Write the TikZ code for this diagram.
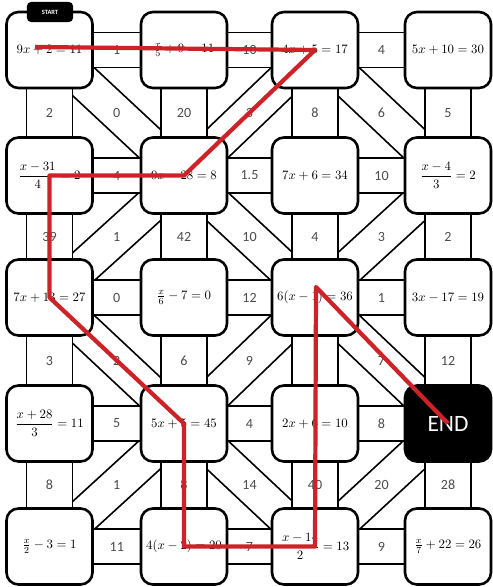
\documentclass[tikz,border=0pt]{standalone}
\usepackage{amsmath}
\usepackage{fontspec}
\newfontfamily\numfont{Carlito} % 通道数字与 END 用无衬线字体
\usetikzlibrary{
  backgrounds, % 通道画在背景层，方框盖在上面
  positioning  % 节点相对定位
}
\definecolor{pathred}{RGB}{205,35,40} % 答案路线的红色

\tikzset{
  eqbox/.style={draw, line width=2.2pt, fill=white, rounded corners=0.36cm,
    minimum width=2.58cm, minimum height=2.28cm, inner sep=0pt,
    font=\fontsize{11}{13}\selectfont}, % 方程方框
  endbox/.style={eqbox, fill=black, text=white,
    font=\numfont\fontsize{20}{24}\selectfont}, % 终点黑框
  starttab/.style={fill=black, rounded corners=0.12cm, minimum width=1.38cm,
    minimum height=0.6cm, inner sep=0pt, text=white,
    font=\numfont\bfseries\fontsize{5.5}{6}\selectfont}, % 起点小标签
  hpass/.style={draw=black, line width=1.5pt, double=white, double distance=28.4pt}, % 横向通道
  vpass/.style={hpass, double distance=37.8pt}, % 纵向通道，稍宽
  dpass/.style={hpass}, % 斜向通道
  num/.style={text=black!70, font=\numfont\fontsize{12}{14}\selectfont, inner sep=1pt}, % 通道上的答案数字
  redpath/.style={draw=pathred, line width=3.6pt, line join=round} % 红色答案路线
}

\begin{document}
\begin{tikzpicture}[x=0.03cm, y=-0.03cm] % 以像素为单位：1 像素 = 0.03cm，y 向下

  \useasboundingbox (0,0) rectangle (492,587); % 固定画布大小与原图一致

  % ======= 方框 (4 列 x 5 行) =======
  \node[eqbox] (b11) at (49.5,50) {$9x+2=11$}; % 第 1 行
  \node[eqbox] (b12) at (184,50) {$\frac{x}{5}+9=11$};
  \node[eqbox] (b13) at (315,50) {$4x+5=17$};
  \node[eqbox] (b14) at (448,50) {$5x+10=30$};

  \node[eqbox] (b21) at (49.5,175.5) {$\dfrac{x-31}{4}=2$}; % 第 2 行
  \node[eqbox] (b22) at (184,175.5) {$9x-28=8$};
  \node[eqbox] (b23) at (315,175.5) {$7x+6=34$};
  \node[eqbox] (b24) at (448,175.5) {$\dfrac{x-4}{3}=2$};

  \node[eqbox] (b31) at (49.5,297.5) {$7x+13=27$}; % 第 3 行
  \node[eqbox] (b32) at (184,297.5) {$\frac{x}{6}-7=0$};
  \node[eqbox] (b33) at (315,297.5) {$6(x-1)=36$};
  \node[eqbox] (b34) at (448,297.5) {$3x-17=19$};

  \node[eqbox] (b41) at (49.5,423.5) {$\dfrac{x+28}{3}=11$}; % 第 4 行
  \node[eqbox] (b42) at (184,423.5) {$5x+5=45$};
  \node[eqbox] (b43) at (315,423.5) {$2x+6=10$};
  \node[endbox] (b44) at (448,423.5) {END}; % 终点

  \node[eqbox] (b51) at (49.5,546.5) {$\frac{x}{2}-3=1$}; % 第 5 行
  \node[eqbox] (b52) at (184,546.5) {$4(x-2)=20$};
  \node[eqbox] (b53) at (315,546.5) {$\dfrac{x-14}{2}=13$};
  \node[eqbox] (b54) at (448,546.5) {$\frac{x}{7}+22=26$};

  \node[starttab] (start) at (50,12) {START}; % 起点标签压在左上方框顶边

  % ======= 通道 (背景层) =======
  \begin{scope}[on background layer]
    % 斜向通道先画，之后被横竖通道盖住
    \draw[dpass] (b11.center) -- (b22.center) node[midway, num] (d1a) {0};
    \draw[dpass] (b13.center) -- (b22.center) node[midway, num] (d1b) {3};
    \draw[dpass] (b13.center) -- (b24.center) node[midway, num] (d1c) {6};
    \draw[dpass] (b22.center) -- (b31.center) node[midway, num] (d2a) {1};
    \draw[dpass] (b22.center) -- (b33.center) node[midway, num] (d2b) {10};
    \draw[dpass] (b24.center) -- (b33.center) node[midway, num] (d2c) {3};
    \draw[dpass] (b31.center) -- (b42.center) node[midway, num] (d3a) {2};
    \draw[dpass] (b33.center) -- (b42.center) node[midway, num] (d3b) {9};
    \draw[dpass] (b33.center) -- (b44.center) node[midway, num] (d3c) {7};
    \draw[dpass] (b42.center) -- (b51.center) node[midway, num] (d4a) {1};
    \draw[dpass] (b42.center) -- (b53.center) node[midway, num] (d4b) {14};
    \draw[dpass] (b44.center) -- (b53.center) node[midway, num] (d4c) {20};

    % 横向通道
    \draw[hpass] (b11.center) -- (b12.center) node[midway, num] (h1a) {1};
    \draw[hpass] (b12.center) -- (b13.center) node[midway, num] (h1b) {10};
    \draw[hpass] (b13.center) -- (b14.center) node[midway, num] (h1c) {4};
    \draw[hpass] (b21.center) -- (b22.center) node[midway, num] (h2a) {4};
    \draw[hpass] (b22.center) -- (b23.center) node[midway, num] (h2b) {1.5};
    \draw[hpass] (b23.center) -- (b24.center) node[midway, num] (h2c) {10};
    \draw[hpass] (b31.center) -- (b32.center) node[midway, num] (h3a) {0};
    \draw[hpass] (b32.center) -- (b33.center) node[midway, num] (h3b) {12};
    \draw[hpass] (b33.center) -- (b34.center) node[midway, num] (h3c) {1};
    \draw[hpass] (b41.center) -- (b42.center) node[midway, num] (h4a) {5};
    \draw[hpass] (b42.center) -- (b43.center) node[midway, num] (h4b) {4};
    \draw[hpass] (b43.center) -- (b44.center) node[midway, num] (h4c) {8};
    \draw[hpass] (b51.center) -- (b52.center) node[midway, num] (h5a) {11};
    \draw[hpass] (b52.center) -- (b53.center) node[midway, num] (h5b) {7};
    \draw[hpass] (b53.center) -- (b54.center) node[midway, num] (h5c) {9};

    % 纵向通道
    \draw[vpass] (b11.center) -- (b21.center) node[midway, num] (v1a) {2};
    \draw[vpass] (b12.center) -- (b22.center) node[midway, num] (v1b) {20};
    \draw[vpass] (b13.center) -- (b23.center) node[midway, num] (v1c) {8};
    \draw[vpass] (b14.center) -- (b24.center) node[midway, num] (v1d) {5};
    \draw[vpass] (b21.center) -- (b31.center) node[midway, num] (v2a) {39};
    \draw[vpass] (b22.center) -- (b32.center) node[midway, num] (v2b) {42};
    \draw[vpass] (b23.center) -- (b33.center) node[midway, num] (v2c) {4};
    \draw[vpass] (b24.center) -- (b34.center) node[midway, num] (v2d) {2};
    \draw[vpass] (b31.center) -- (b41.center) node[midway, num] (v3a) {3};
    \draw[vpass] (b32.center) -- (b42.center) node[midway, num] (v3b) {6};
    \draw[vpass] (b33.center) -- (b43.center); % 数字被红线挡住
    \draw[vpass] (b34.center) -- (b44.center) node[midway, num] (v3d) {12};
    \draw[vpass] (b41.center) -- (b51.center) node[midway, num] (v4a) {8};
    \draw[vpass] (b42.center) -- (b52.center) node[midway, num] (v4b) {8};
    \draw[vpass] (b43.center) -- (b53.center) node[midway, num] (v4c) {40};
    \draw[vpass] (b44.center) -- (b54.center) node[midway, num] (v4d) {28};
  \end{scope}

  % ======= 答案路线 =======
  \coordinate (go) at (35,47); % 路线起点，落在第一个方程的文字上
  \coordinate (turn) at (316,287); % 折返点略高于方框中心
  \draw[redpath] (go) -- (b13.center) -- (b22.center) -- (b21.center) -- (b31.center)
    -- (b42.center) -- (b52.center) -- (b53.center) -- (turn) -- (b44.center);

\end{tikzpicture}
\end{document}
